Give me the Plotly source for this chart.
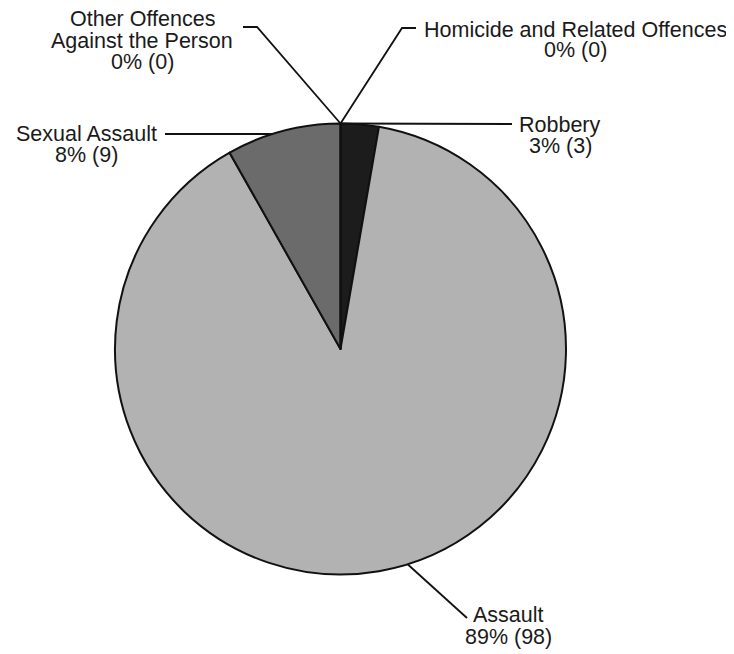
import math
import plotly.graph_objects as go

# Offence categories, in clockwise order from 12 o'clock
categories = ['Homicide and Related Offences', 'Robbery', 'Assault',
              'Sexual Assault', 'Other Offences Against the Person']
counts = [0, 3, 98, 9, 0]
percent_labels = ['0%', '3%', '89%', '8%', '0%']
slice_colors = ['#000000', '#1c1c1c', '#b2b2b2', '#6b6b6b', '#4a4a4a']

# the page body adds an 8px margin, so work in page pixels and shift
OFF = 8
W, H = 734 - 2 * OFF, 654 - OFF
cx, cy, r = 340.5, 349.0, 225.5   # pie centre / radius (page pixels)
FS = 21.5


def px(x):
    return (x - OFF) / W


def py(y):
    return 1 - (y - OFF) / H


fig = go.Figure(go.Pie(
    labels=categories,
    values=counts,
    sort=False,
    direction='clockwise',
    rotation=0,
    textinfo='none',
    hoverinfo='label+value+percent',
    showlegend=False,
    marker=dict(colors=slice_colors, line=dict(color='#111111', width=2)),
    domain=dict(x=[px(cx - r), px(cx + r)], y=[py(cy + r), py(cy - r)]),
))

# anchor angle (deg clockwise from 12 o'clock) for each label's leader line
total = sum(counts)
starts = [sum(counts[:i]) / total * 360 for i in range(len(counts))]
mids = [s + c / total * 180 for s, c in zip(starts, counts)]
anchor_angle = [0, mids[1], mids[2] - 7.5, mids[3], 360]


def on_pie(a):
    t = math.radians(a)
    return cx + r * math.sin(t), cy - r * math.cos(t)


# label placement: text centre x, line baselines, leader elbow points
placements = [
    (575, [38, 57.5], [(402, 28), (416, 28)]),
    (560, [132.5, 153.5], [(512, 124)]),
    (508, [623, 645], [(467, 618)]),
    (86, [141.5, 163], [(165, 134)]),
    (142, [27, 48.5, 70], [(257, 27), (243, 27)]),
]
text_lines = [
    ['Homicide and Related Offences'],
    ['Robbery'],
    ['Assault'],
    ['Sexual Assault'],
    ['Other Offences', 'Against the Person'],
]

for i, (tx, baselines, elbow) in enumerate(placements):
    x0, y0 = on_pie(anchor_angle[i])
    if i == 3:
        y0 = elbow[0][1]
        x0 = cx - math.sqrt(r ** 2 - (cy - y0) ** 2)
    if i == 1:
        x0, y0 = cx, cy - r
    pts = [(x0, y0)] + elbow
    path = 'M ' + ' L '.join(f'{px(x)},{py(y)}' for x, y in pts)
    fig.add_shape(type='path', path=path, xref='paper', yref='paper',
                  line=dict(color='#111111', width=1.8))
    lines = text_lines[i] + [f'{percent_labels[i]} ({counts[i]})']
    for line, base in zip(lines, baselines):
        fig.add_annotation(
            x=px(tx), y=py(base - 0.35 * FS), xref='paper', yref='paper',
            xanchor='center', yanchor='middle', showarrow=False,
            text=line,
            font=dict(family='Arial, Liberation Sans, sans-serif', size=FS,
                      color='#1a1a1a'),
        )

fig.update_layout(
    width=W, height=H,
    margin=dict(l=0, r=0, t=0, b=0),
    paper_bgcolor='white',
    plot_bgcolor='white',
)

fig.write_html("out.html")
